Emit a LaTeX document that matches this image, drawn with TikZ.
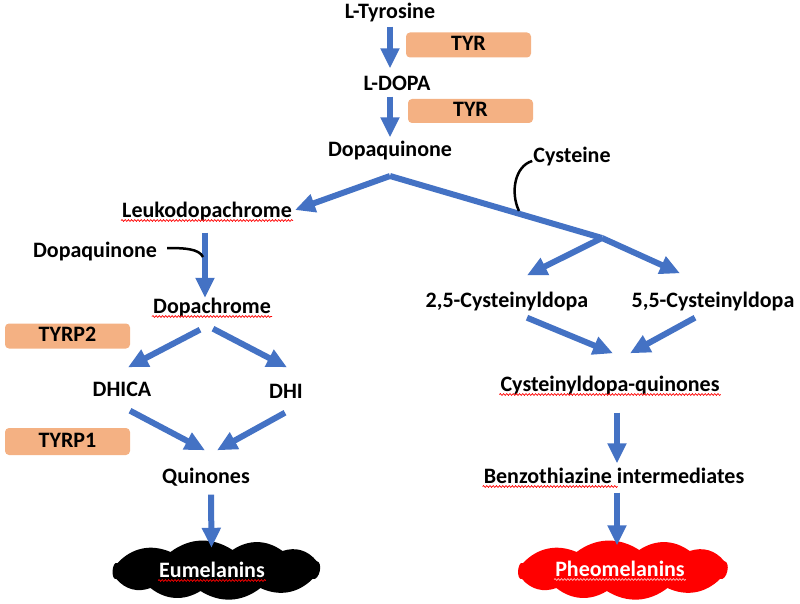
\documentclass[tikz,border=0pt]{standalone}
\usepackage{fontspec}
\setmainfont{Carlito}
\usetikzlibrary{arrows.meta,decorations.pathmorphing}
\definecolor{flowblue}{HTML}{4472C4}
\definecolor{enzfill}{HTML}{F4B183}
\definecolor{pinkline}{HTML}{FFB8B8}
\newcommand{\blobcloud}[4]{% centre x, centre y, x scale, colour
  \begin{scope}[shift={(#1,#2)}, xscale=#3]
  \fill[#4] (-95,-8) to[bend left=35] (-42,-19) to[bend left=35] (20,-21)
     to[bend left=35] (70,-20) to[bend left=35] (104,-10)
     to[bend left=95] (100,8) to[bend left=35] (48,17) to[bend left=35] (-12,20)
     to[bend left=35] (-62,17) to[bend left=35] (-96,8)
     to[bend left=110] (-95,-8) -- cycle;
  \end{scope}
}
\begin{document}
\begin{tikzpicture}[x=1pt,y=-1pt,
  lbl/.style={font=\fontsize{22}{26}\selectfont\bfseries, inner sep=1pt, text height=16pt, text depth=5pt},
  enz/.style={lbl, fill=enzfill, rounded corners=4pt, minimum width=125pt, minimum height=25pt},
  flow/.style={draw=flowblue, line width=6pt, -{Triangle[length=20pt,width=18pt]}},
  flowbar/.style={draw=flowblue, line width=6pt, line join=miter},
  joiner/.style={draw=black, line width=2.5pt},
  spell/.style={draw=red, line width=0.7pt, decorate, decoration={snake, amplitude=0.9pt, segment length=3.2pt}},
  cloudspot/.style={inner sep=0pt, minimum width=#1}
]
\useasboundingbox (0,0) rectangle (800,604);

% top chain
\node[lbl] (tyr) at (390,13) {L-Tyrosine};
\node[lbl] (dopa) at (397,85) {L-DOPA};
\node[lbl] (dq) at (390,151) {Dopaquinone};
\node[enz] (tyr1) at (468.5,45) {TYR};
\node[enz, minimum height=24pt] (tyr2) at (470.5,111) {TYR};
\draw[flow] ([yshift=-2pt]tyr.south) -- ([xshift=-7pt,yshift=5pt]dopa.north);
\draw[flow] ([xshift=-7pt]dopa.south) -- ([yshift=2pt]dq.north);

% branch
\coordinate (apex) at (390,176);
\coordinate (split) at (602,238);
\node[lbl] (leuko) at (207,212) {Leukodopachrome};
\node[lbl] (cys) at (572,157) {Cysteine};
\draw[flowbar] (apex) -- (split);
\draw[flow] (apex) -- ([xshift=2pt,yshift=2pt]leuko.east);
\coordinate (cysjoin) at (519,211);
\draw[joiner] ([yshift=-4pt]cys.west) .. controls (515,166) and (510,192) .. (cysjoin);

% left branch
\node[lbl] (dql) at (95,252) {Dopaquinone};
\node[lbl] (dc) at (212,308) {Dopachrome};
\node[enz] (tyrp2) at (67.5,336) {TYRP2};
\node[lbl] (dhica) at (122,391) {DHICA};
\node[lbl] (dhi) at (286,393) {DHI};
\node[enz, minimum height=27pt] (tyrp1) at (67.5,441.5) {TYRP1};
\node[lbl] (quin) at (206,478) {Quinones};
\blobcloud{212.5}{571}{1}{black}
\node[cloudspot=225pt, minimum height=48pt] (eucloud) at (212.5,571) {};
\node[lbl, text=white] (eu) at (212,572) {Eumelanins};

\draw[flow] ([xshift=-2pt,yshift=-9pt]leuko.south) -- ([xshift=-7pt,yshift=-1.5pt]dc.north);
\coordinate (dqjoin) at (203,257);
\draw[joiner] ([xshift=9pt,yshift=4pt]dql.east) .. controls (186,248) and (199,249) .. (dqjoin);
\draw[flow] ([xshift=-12pt,yshift=-10pt]dc.south) -- ([xshift=6pt,yshift=12pt]dhica.north);
\draw[flow] ([xshift=1pt,yshift=-9pt]dc.south) -- ([xshift=1pt,yshift=14pt]dhi.north);
\draw[flow] ([xshift=8pt,yshift=-8pt]dhica.south) -- ([xshift=-1pt,yshift=16pt]quin.north);
\draw[flow] ([xshift=-1pt,yshift=-8pt]dhi.south) -- ([xshift=11pt,yshift=16pt]quin.north);
\draw[flow] ([xshift=5pt,yshift=-5pt]quin.south) -- ([xshift=-1pt,yshift=-1pt]eucloud.north);

% right branch
\node[lbl] (c25) at (507,302) {2,5-Cysteinyldopa};
\node[lbl] (c55) at (713,302) {5,5-Cysteinyldopa};
\node[lbl] (cq) at (610,386) {Cysteinyldopa-quinones};
\node[lbl] (benzo) at (614,478) {Benzothiazine intermediates};
\blobcloud{619}{571}{1.01}{red}
\node[cloudspot=227pt, minimum height=47pt] (pheocloud) at (619,571) {};
\node[lbl, text=white] (pheo) at (620,571) {Pheomelanins};

\draw[flow] (split) -- ([xshift=20pt,yshift=15pt]c25.north);
\draw[flow] (split) -- ([xshift=-33pt,yshift=17pt]c55.north);
\draw[flow] ([xshift=20pt,yshift=-4pt]c25.south) -- ([xshift=3pt,yshift=21pt]cq.north);
\draw[flow] ([xshift=-18pt,yshift=-4pt]c55.south) -- ([xshift=20pt,yshift=21pt]cq.north);
\draw[flow] ([xshift=7pt,yshift=-15pt]cq.south) -- ([xshift=3pt,yshift=3pt]benzo.north);
\draw[flow] ([xshift=3pt,yshift=-3pt]benzo.south) -- ([xshift=-2pt,yshift=2pt]pheocloud.north);

% spell-check underlines
\draw[spell] ([yshift=-3pt]leuko.base west) -- ([yshift=-3pt]leuko.base east);
\draw[spell] ([yshift=-3pt]dc.base west) -- ([yshift=-3pt]dc.base east);
\draw[spell] ([yshift=-3pt]eu.base west) -- ([yshift=-3pt]eu.base east);
\draw[spell] ([yshift=-3pt]cq.base west) -- ([yshift=-3pt]cq.base east);
\draw[spell] ([yshift=-3pt]benzo.base west) -- ++(135,0);
\draw[spell, draw=pinkline] ([yshift=-3pt]pheo.base west) -- ([yshift=-3pt]pheo.base east);
\end{tikzpicture}
\end{document}
